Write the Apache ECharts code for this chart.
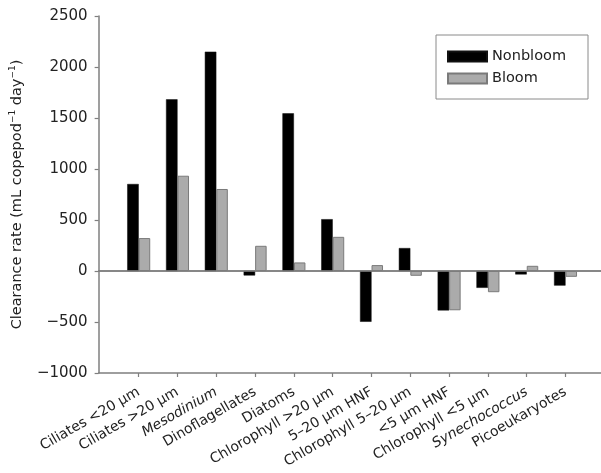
<!DOCTYPE html>
<html>
<head>
<meta charset="utf-8">
<script src="https://cdn.jsdelivr.net/npm/echarts@6/dist/echarts.min.js"></script>
<style>html,body{margin:0;padding:0;background:#fff;}#chart{width:601px;height:473px;}</style>
</head>
<body>
<div id="chart"></div>
<script>
const categories = ['Ciliates <20 µm', 'Ciliates >20 µm', 'Mesodinium', 'Dinoflagellates', 'Diatoms',
  'Chlorophyll >20 µm', '5–20 µm HNF', 'Chlorophyll 5–20 µm', '<5 µm HNF', 'Chlorophyll <5 µm',
  'Synechococcus', 'Picoeukaryotes'];
const italicCats = ['Mesodinium', 'Synechococcus'];
const nonbloom = [853, 1683, 2150, -44, 1546, 508, -498, 225, -387, -165, -34, -143];
const bloom = [323, 934, 804, 247, 84, 335, 58, -47, -385, -208, 51, -57];
const yTicks = [-1000, -500, 0, 500, 1000, 1500, 2000, 2500];

const positions = categories.map((c, i) => i + 1);
const FONT = 'DejaVu Sans';
const AXIS_COLOR = '#7f7f7f';

const chart = echarts.init(document.getElementById('chart'), null, {renderer: 'canvas'});
chart.setOption({
  backgroundColor: '#ffffff',
  animation: false,
  textStyle: {fontFamily: FONT, color: '#222'},
  legend: {
    orient: 'vertical',
    left: 436, top: 35,
    padding: [14, 22, 13, 11],
    itemWidth: 39, itemHeight: 10, itemGap: 7, itemTextGap: 10,
    borderColor: '#8a8a8a', borderWidth: 1,
    icon: 'rect',
    textStyle: {fontFamily: FONT, fontSize: 14.5, color: '#222', lineHeight: 14},
    data: ['Nonbloom', 'Bloom']
  },
  grid: {left: 91, right: 0, top: 16, bottom: 100, containLabel: false},
  xAxis: [{
    type: 'value',
    min: -0.033, max: 12.914,
    splitLine: {show: false},
    axisLine: {show: true, onZero: false, lineStyle: {color: AXIS_COLOR, width: 1.5}},
    axisTick: {show: true, customValues: positions, length: 4, inside: false, lineStyle: {color: AXIS_COLOR, width: 1.2}},
    axisLabel: {
      customValues: positions,
      rotate: 30, margin: 18,
      fontFamily: FONT, fontSize: 14, color: '#222',
      formatter: function (v) {
        const name = categories[Math.round(v) - 1];
        if (name === undefined) return '';
        return italicCats.indexOf(name) >= 0 ? '{it|' + name + '}' : name;
      },
      rich: {it: {fontStyle: 'italic', fontFamily: FONT, fontSize: 14, color: '#222'}}
    }
  }, {
    type: 'value',
    position: 'top',
    min: -0.033, max: 12.914,
    splitLine: {show: false},
    axisLine: {show: true, lineStyle: {color: AXIS_COLOR, width: 1.5}},
    axisTick: {show: false},
    axisLabel: {show: false}
  }],
  yAxis: {
    type: 'value',
    min: -1000, max: 2500, interval: 500,
    splitLine: {show: false},
    axisLine: {show: true, onZero: false, lineStyle: {color: AXIS_COLOR, width: 1.5}},
    axisTick: {show: true, length: 4, lineStyle: {color: AXIS_COLOR, width: 1.2}},
    axisLabel: {
      margin: 11, fontFamily: FONT, fontSize: 15, color: '#222',
      formatter: function (v) { return v < 0 ? '\u2212' + Math.abs(v) : String(v); }
    },
    name: 'Clearance rate (mL copepod{sup|\u22121} day{sup|\u22121})',
    nameLocation: 'middle',
    nameGap: 64,
    nameTextStyle: {
      fontFamily: FONT, fontSize: 14.5, color: '#222', lineHeight: 18,
      rich: {sup: {fontFamily: FONT, fontSize: 9, lineHeight: 9, verticalAlign: 'top', color: '#222'}}
    }
  },
  series: [{
    name: 'Nonbloom',
    type: 'bar',
    xAxisIndex: 0,
    barWidth: 11.5,
    barGap: '0%',
    itemStyle: {color: '#000000', borderColor: '#111', borderWidth: 0.5},
    data: positions.map((p, i) => [p, nonbloom[i]]),
    markLine: {
      silent: true, symbol: 'none',
      label: {show: false},
      lineStyle: {color: AXIS_COLOR, width: 1.5, type: 'solid'},
      data: [{yAxis: 0}]
    }
  }, {
    name: 'Bloom',
    type: 'bar',
    xAxisIndex: 0,
    barWidth: 11.5,
    barGap: '0%',
    itemStyle: {color: '#ababab', borderColor: '#7a7a7a', borderWidth: 1},
    data: positions.map((p, i) => [p, bloom[i]])
  }]
});
</script>
</body>
</html>
